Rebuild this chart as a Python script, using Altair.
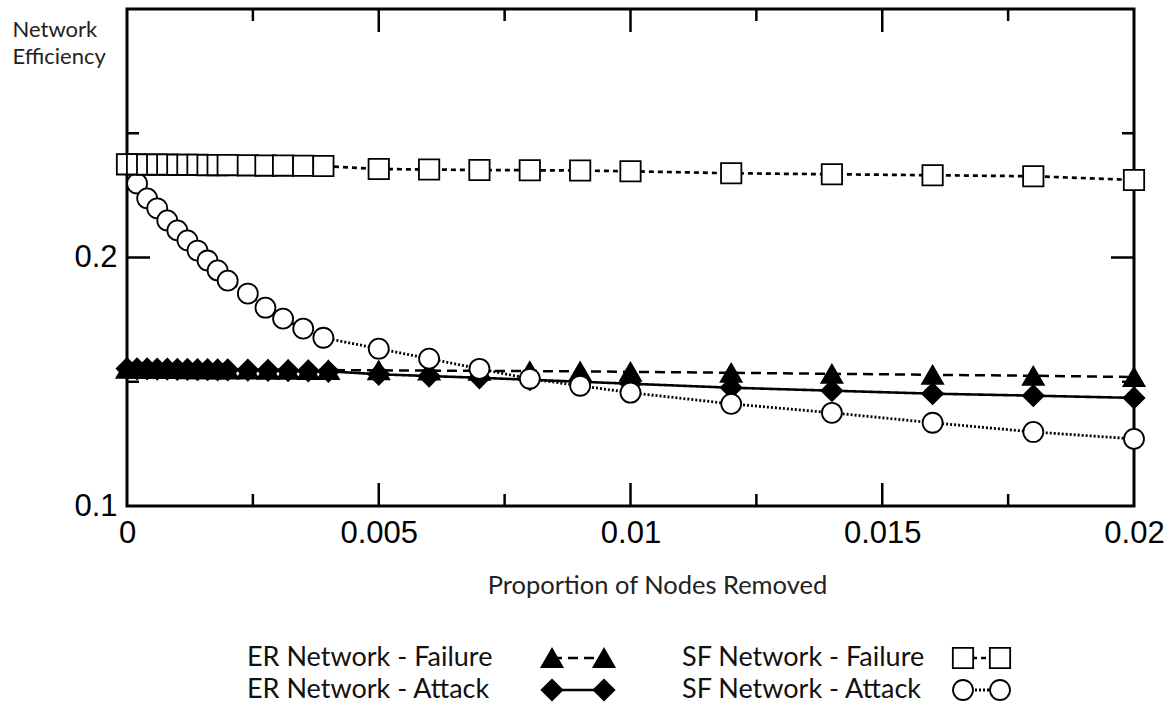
import altair as alt
import pandas as pd

# ---- data ----
series = ["ER Network - Failure", "ER Network - Attack", "SF Network - Failure", "SF Network - Attack"]
networks = ["ER", "ER", "SF", "SF"]
kinds = ["Failure", "Attack", "Failure", "Attack"]

er_x = [0, 0.0002, 0.0004, 0.0006, 0.0008, 0.001, 0.0012, 0.0014, 0.0016, 0.0018, 0.002,
        0.0024, 0.0028, 0.0032, 0.0036, 0.004,
        0.005, 0.006, 0.007, 0.008, 0.009, 0.01,
        0.012, 0.014, 0.016, 0.018, 0.02]
sf_x = [0, 0.0002, 0.0004, 0.0006, 0.0008, 0.001, 0.0012, 0.0014, 0.0016, 0.0018, 0.002,
        0.0024, 0.00275, 0.0031, 0.0035, 0.0039,
        0.005, 0.006, 0.007, 0.008, 0.009, 0.01,
        0.012, 0.014, 0.016, 0.018, 0.02]

er_failure = [0.1552, 0.1552, 0.1552, 0.1551, 0.1551, 0.1551, 0.1550, 0.1550, 0.1550, 0.1549, 0.1549,
              0.1549, 0.1548, 0.1548, 0.1547, 0.1547,
              0.1546, 0.1545, 0.1544, 0.1543, 0.1542, 0.1540,
              0.1536, 0.1532, 0.1528, 0.1524, 0.1519]
er_attack = [0.1553, 0.1552, 0.1552, 0.1551, 0.1551, 0.1550, 0.1550, 0.1549, 0.1549, 0.1548, 0.1548,
             0.1547, 0.1546, 0.1545, 0.1544, 0.1542,
             0.1530, 0.1523, 0.1516, 0.1508, 0.1500, 0.1492,
             0.1476, 0.1464, 0.1452, 0.1444, 0.1435]
sf_failure = [0.2375, 0.2375, 0.2374, 0.2374, 0.2374, 0.2373, 0.2373, 0.2373, 0.2372, 0.2372, 0.2372,
              0.2371, 0.2370, 0.2370, 0.2369, 0.2368,
              0.2356, 0.2354, 0.2352, 0.2351, 0.2350, 0.2347,
              0.2339, 0.2335, 0.2331, 0.2327, 0.2312]
sf_attack = [0.2375, 0.2298, 0.2238, 0.2198, 0.2149, 0.2109, 0.2069, 0.2028, 0.1988, 0.1948, 0.1907,
             0.1855, 0.1798, 0.1754, 0.1714, 0.1677,
             0.1633, 0.1593, 0.1552, 0.1512, 0.1484, 0.1456,
             0.1411, 0.1375, 0.1335, 0.1298, 0.1270]

x_label_values = [0, 0.005, 0.01, 0.015, 0.02]
x_major_ticks = [0.005, 0.01, 0.015]
x_minor_ticks = [0.0025, 0.0075, 0.0125, 0.0175]
y_label_values = [0.1, 0.2]
y_major_ticks = [0.2]
y_minor_ticks = [0.15, 0.25]

# ---- tables ----
draw_order = [(series[0], er_x, er_failure), (series[1], er_x, er_attack),
              (series[3], sf_x, sf_attack), (series[2], sf_x, sf_failure)]
rows = []
for name, xs_, ys_ in draw_order:
    for xv, yv in zip(xs_, ys_):
        rows.append({"series": name, "x": xv, "y": yv})
df = pd.DataFrame(rows)

W, H = 1007, 497
shape_scale = alt.Scale(domain=series, range=["triangle-up", "diamond", "square", "circle"])
fill_scale = alt.Scale(domain=series, range=["black", "black", "white", "white"])
size_scale = alt.Scale(domain=series, range=[441, 400, 324, 340])
dash_scale = alt.Scale(domain=series, range=[[10, 6], [1, 0], [5, 4], [2, 2]])
width_scale = alt.Scale(domain=series, range=[2.5, 2.8, 1.6, 1.6])

xs = alt.Scale(domain=[0, 0.02], nice=False, zero=False)
ys = alt.Scale(domain=[0.1, 0.3], nice=False, zero=False)

lines = alt.Chart(df).mark_line(color="black").encode(
    x=alt.X("x:Q", scale=xs, axis=alt.Axis(
        values=x_label_values, format="~g", labelFont="Liberation Sans", labelFontSize=31,
        labelColor="black", labelFlush=False, labelPadding=12, ticks=False, domain=False, grid=False,
        title="Proportion of Nodes Removed", titleFont="Lato", titleFontSize=25.5,
        titleFontWeight="normal", titleColor="#222", titleX=530, titleY=79, titleBaseline="middle")),
    y=alt.Y("y:Q", scale=ys, axis=alt.Axis(
        values=y_label_values, format="~g", labelFont="Liberation Sans", labelFontSize=31,
        labelColor="black", labelFlush=False, labelPadding=10, ticks=False, domain=False, grid=False,
        title=["Network", "Efficiency"], titleFont="Lato", titleFontSize=22, titleFontWeight="normal",
        titleColor="#222", titleAngle=0, titleAlign="left", titleBaseline="top",
        titleX=-115, titleY=10, titleLineHeight=27)),
    detail="series:N",
    strokeDash=alt.StrokeDash("series:N", scale=dash_scale, legend=None),
    strokeWidth=alt.StrokeWidth("series:N", scale=width_scale, legend=None),
)

points = alt.Chart(df).mark_point(filled=False, stroke="black", strokeWidth=1.8, opacity=1).encode(
    x=alt.X("x:Q", scale=xs),
    y=alt.Y("y:Q", scale=ys),
    shape=alt.Shape("series:N", scale=shape_scale, legend=None),
    fill=alt.Fill("series:N", scale=fill_scale, legend=None),
    size=alt.Size("series:N", scale=size_scale, legend=None),
)

def vticks(vals, y0, y1):
    return alt.Chart(pd.DataFrame({"v": vals})).mark_rule(color="black", strokeWidth=2.5).encode(
        x=alt.X("v:Q", scale=xs), y=alt.value(y0), y2=alt.value(y1))

def hticks(vals, x0, x1):
    return alt.Chart(pd.DataFrame({"v": vals})).mark_rule(color="black", strokeWidth=2.5).encode(
        y=alt.Y("v:Q", scale=ys), x=alt.value(x0), x2=alt.value(x1))

ticks = [
    vticks(x_major_ticks, H, H - 23), vticks(x_minor_ticks, H, H - 12),
    vticks(x_major_ticks, 0, 23), vticks(x_minor_ticks, 0, 12),
    hticks(y_major_ticks, 0, 23), hticks(y_minor_ticks, 0, 12),
    hticks(y_major_ticks, W, W - 23), hticks(y_minor_ticks, W, W - 12),
]

main = alt.layer(lines, *ticks, points)

# ---- legend (grid of network x kind) ----
leg_text = pd.DataFrame({"series": series, "network": networks, "kind": kinds,
                         "slot": [0, 0, 3, 3]})
sym_rows = []
for s, n, k in zip(series, networks, kinds):
    base = 1 if n == "ER" else 4
    for end in (0, 1):
        sym_rows.append({"series": s, "network": n, "kind": k, "slot": base + end})
leg_sym = pd.DataFrame(sym_rows)

lx = alt.Scale(domain=[0, 1, 2, 3, 4, 5], range=[120, 425, 477, 555, 836, 873])
ly = alt.Scale(type="point", domain=["Failure", "Attack"], range=[649, 681], padding=0)

leg_t = alt.Chart(leg_text).mark_text(align="left", baseline="middle", font="Lato",
                                      fontSize=27, color="#111").encode(
    x=alt.X("slot:Q", scale=lx, axis=None),
    y=alt.Y("kind:N", scale=ly, axis=None),
    text="series:N",
)
leg_l = alt.Chart(leg_sym).mark_line(color="black").encode(
    x=alt.X("slot:Q", scale=lx, axis=None),
    y=alt.Y("kind:N", scale=ly, axis=None),
    detail="series:N",
    strokeDash=alt.StrokeDash("series:N", scale=dash_scale, legend=None),
    strokeWidth=alt.StrokeWidth("series:N", scale=width_scale, legend=None),
)
leg_p = alt.Chart(leg_sym).mark_point(filled=False, stroke="black", strokeWidth=1.8, opacity=1).encode(
    x=alt.X("slot:Q", scale=lx, axis=None),
    y=alt.Y("kind:N", scale=ly, axis=None),
    shape=alt.Shape("series:N", scale=shape_scale, legend=None),
    fill=alt.Fill("series:N", scale=fill_scale, legend=None),
    size=alt.Size("series:N", scale=size_scale, legend=None),
)
legend = alt.layer(leg_l, leg_p, leg_t)

chart = alt.layer(main, legend).resolve_scale(x="independent", y="independent").properties(
    width=W, height=H,
    autosize=alt.AutoSizeParams(type="none"),
    padding={"left": 127, "top": 9, "right": 40, "bottom": 200},
    background="white",
).configure_view(stroke="black", strokeWidth=3)

chart.save("out.html", embed_options={"renderer": "svg", "actions": False})
